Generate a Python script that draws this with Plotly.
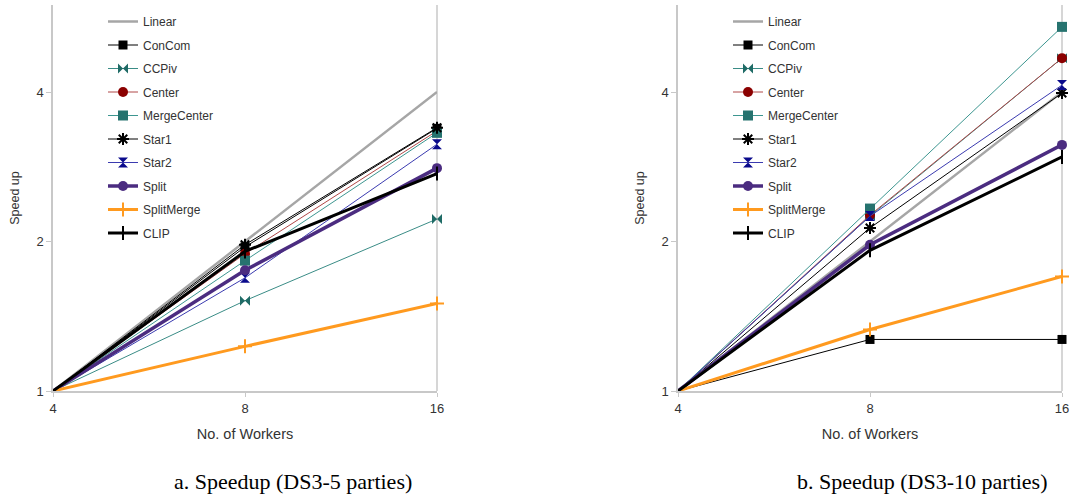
import plotly.graph_objects as go
import math

workers = [4, 8, 16]
series_names = ["Linear", "ConCom", "CCPiv", "Center", "MergeCenter", "Star1", "Star2", "Split", "SplitMerge", "CLIP"]

# Panel a: DS3-5 parties
linear_a = [1, 2, 4]
concom_a = [1, 1.95, 3.38]
ccpiv_a = [1, 1.52, 2.22]
center_a = [1, 1.89, 3.34]
mergecenter_a = [1, 1.83, 3.31]
star1_a = [1, 1.97, 3.39]
star2_a = [1, 1.69, 3.14]
split_a = [1, 1.75, 2.81]
splitmerge_a = [1, 1.23, 1.50]
clip_a = [1, 1.91, 2.74]

# Panel b: DS3-10 parties
linear_b = [1, 2, 4]
concom_b = [1, 1.27, 1.27]
ccpiv_b = [1, 2.25, 4.68]
center_b = [1, 2.26, 4.68]
mergecenter_b = [1, 2.33, 5.41]
star1_b = [1, 2.13, 3.98]
star2_b = [1, 2.25, 4.13]
split_b = [1, 1.97, 3.13]
splitmerge_b = [1, 1.33, 1.70]
clip_b = [1, 1.92, 2.96]

y_ticks = [1, 2, 4]
x_ticks = [4, 8, 16]
captions = ["a. Speedup (DS3-5 parties)", "b. Speedup (DS3-10 parties)"]

styles = {
    "Linear":      dict(line=dict(color="#a6a6a6", width=2.5), marker=None),
    "ConCom":      dict(line=dict(color="#000000", width=1), marker=dict(symbol="square", size=9, color="#000000")),
    "CCPiv":       dict(line=dict(color="#3a8c86", width=1), marker=dict(symbol="bowtie", size=10, color="#1f6b66")),
    "Center":      dict(line=dict(color="#b04848", width=1), marker=dict(symbol="circle", size=10, color="#8b0000")),
    "MergeCenter": dict(line=dict(color="#3d9690", width=1), marker=dict(symbol="square", size=10, color="#26736f")),
    "Star1":       dict(line=dict(color="#000000", width=1), marker=dict(symbol="asterisk-open", size=10, color="#000000", line=dict(color="#000000", width=2))),
    "Star2":       dict(line=dict(color="#3b3bb0", width=1), marker=dict(symbol="hourglass", size=10, color="#0a0a8c")),
    "Split":       dict(line=dict(color="#4b2c80", width=3.5), marker=dict(symbol="circle", size=10, color="#4b2c80")),
    "SplitMerge":  dict(line=dict(color="#ff9a1f", width=3), marker=dict(symbol="cross-thin-open", size=10, color="#ff9a1f", line=dict(color="#ff9a1f", width=2))),
    "CLIP":        dict(line=dict(color="#000000", width=3), marker=dict(symbol="line-ns-open", size=10, color="#000000", line=dict(color="#000000", width=2))),
}

data_a = [linear_a, concom_a, ccpiv_a, center_a, mergecenter_a, star1_a, star2_a, split_a, splitmerge_a, clip_a]
data_b = [linear_b, concom_b, ccpiv_b, center_b, mergecenter_b, star1_b, star2_b, split_b, splitmerge_b, clip_b]

fig = go.Figure()
for panel, (data, xa, ya, leg) in enumerate([(data_a, "x", "y", "legend"), (data_b, "x2", "y2", "legend2")]):
    for name, vals in zip(series_names, data):
        st = styles[name]
        kw = dict(x=workers, y=vals, name=name, xaxis=xa, yaxis=ya, legend=leg,
                  legendgroup=f"{panel}_{name}", line=st["line"], cliponaxis=False)
        if st.get("marker") is None:
            kw["mode"] = "lines"
        else:
            kw["mode"] = "lines+markers"
            kw["marker"] = st["marker"]
        fig.add_trace(go.Scatter(**kw))

W, H = 1072, 495
y_top, y_bot = 5, 391
ydom = [1 - y_bot / H, 1 - y_top / H]
yrange = [0, math.log10(2) * (y_bot - y_top) / 149.5]

axis_font = dict(family="Liberation Sans, Arial, sans-serif", size=13, color="#333333")
xtitle_font = dict(family="Liberation Sans, Arial, sans-serif", size=14.5, color="#333333")
ytitle_font = dict(family="Liberation Sans, Arial, sans-serif", size=12.5, color="#333333")

def xaxis_cfg(dom, anchor):
    return dict(domain=dom, type="log", range=[math.log10(4), math.log10(16)], anchor=anchor,
                tickvals=x_ticks, ticktext=[str(v) for v in x_ticks], automargin=False,
                showgrid=False, zeroline=False, showline=True, linecolor="#c8c8c8", linewidth=2,
                ticks="outside", ticklen=4, tickcolor="#c8c8c8", tickfont=axis_font,
                title=dict(text="No. of Workers", font=xtitle_font, standoff=14))

def yaxis_cfg(anchor):
    return dict(domain=ydom, type="log", range=yrange, anchor=anchor, automargin=False,
                tickvals=y_ticks, ticktext=[str(v) for v in y_ticks],
                showgrid=False, zeroline=False, showline=True, linecolor="#c8c8c8", linewidth=1.5,
                ticks="outside", ticklen=5, tickcolor="#c8c8c8", tickfont=axis_font,
                title=dict(text="Speed up", font=ytitle_font, standoff=14))

xd1 = [53 / W, 437 / W]
xd2 = [678 / W, 1062 / W]

legend_common = dict(font=dict(family="Liberation Sans, Arial, sans-serif", size=12, color="#333333"),
                     bgcolor="rgba(0,0,0,0)", borderwidth=0, tracegroupgap=4.5, itemwidth=30,
                     xanchor="left", yanchor="top")

fig.update_layout(
    width=W, height=H,
    margin=dict(l=0, r=0, t=0, b=0, autoexpand=False),
    paper_bgcolor="white", plot_bgcolor="white",
    xaxis=xaxis_cfg(xd1, "y"), yaxis=yaxis_cfg("x"),
    xaxis2=xaxis_cfg(xd2, "y2"), yaxis2=yaxis_cfg("x2"),
    legend=dict(legend_common, x=103 / W, y=1 - 7 / H),
    legend2=dict(legend_common, x=728 / W, y=1 - 7 / H),
    showlegend=True,
)

for xref, yref in [("x domain", "y domain"), ("x2 domain", "y2 domain")]:
    fig.add_shape(type="line", xref=xref, yref=yref, x0=1, x1=1, y0=0, y1=1,
                  line=dict(color="#c8c8c8", width=1.5), layer="below")

for cap, cx in zip(captions, [293, 922]):
    fig.add_annotation(text=cap, x=cx / W, y=1 - 481 / H, xref="paper", yref="paper",
                       showarrow=False, xanchor="center", yanchor="middle",
                       font=dict(family="Liberation Serif, Times New Roman, serif", size=22, color="#000000"))

fig.write_html("out.html", config={"displayModeBar": False},
               post_script="document.body.style.margin='0';document.body.style.overflow='hidden';")
